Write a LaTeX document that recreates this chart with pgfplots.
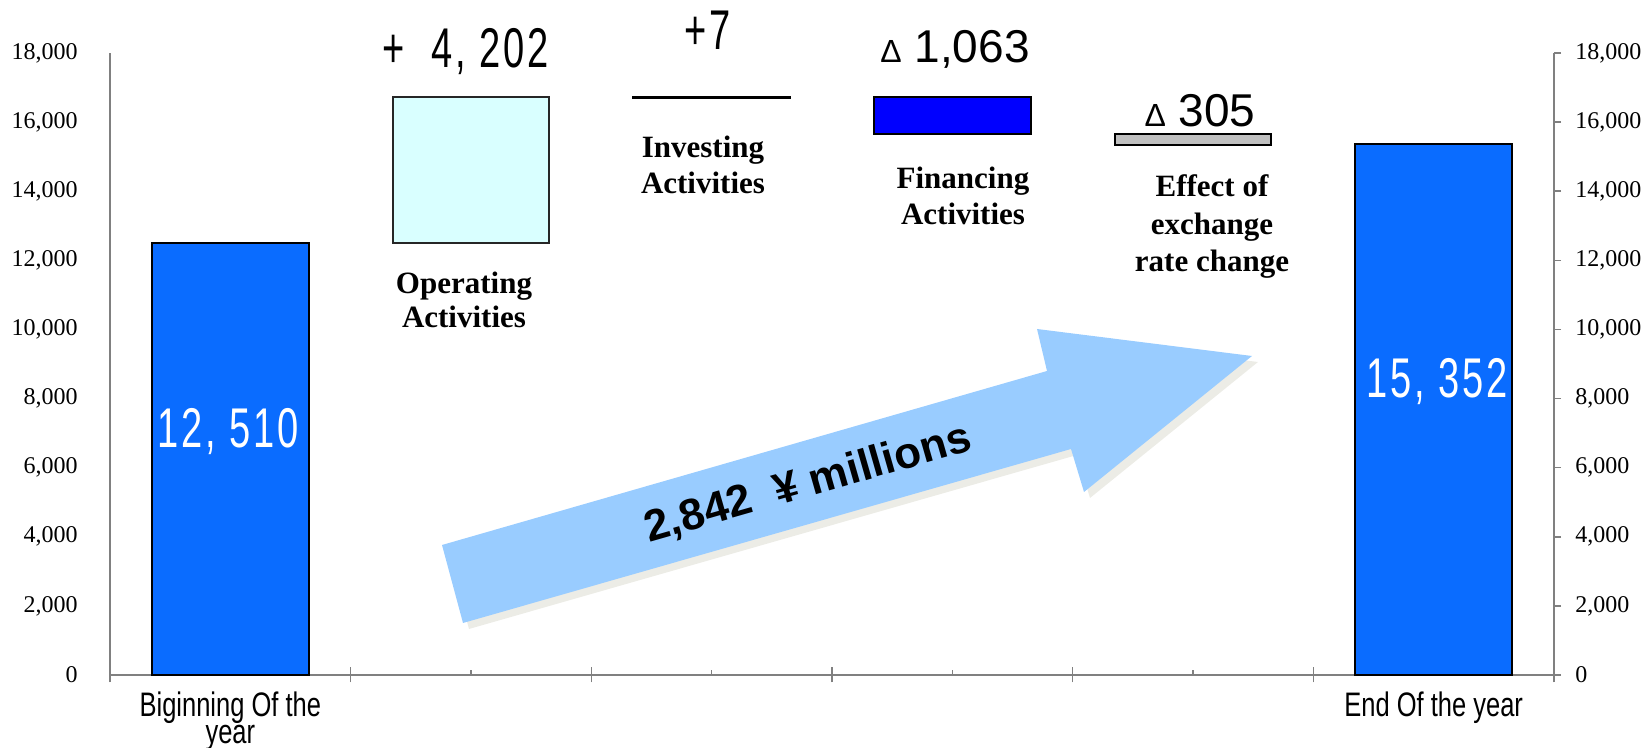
\documentclass[border=0pt]{standalone}
\usepackage{fontspec}
\setmainfont{Liberation Serif}
\setsansfont{Liberation Sans}
\newfontfamily\narrowsans[FakeStretch=0.75]{Liberation Sans}
\newfontfamily\condsans[FakeStretch=0.68,LetterSpace=5]{Liberation Sans}
\usepackage{pgfplots}
\pgfplotsset{compat=1.18}
\definecolor{barblue}{RGB}{10,108,255}
\definecolor{opcyan}{RGB}{217,255,255}
\definecolor{finblue}{RGB}{0,0,255}
\definecolor{effgray}{RGB}{192,192,192}
\definecolor{arrowblue}{RGB}{153,204,255}
\definecolor{shadowgray}{RGB}{236,236,230}
\definecolor{axisgray}{RGB}{128,128,128}
\begin{document}
\begin{tikzpicture}
\tikzset{px/.style={x=0.5pt,y=-0.5pt,shift={(-55pt,337.5pt)}}}
\begin{axis}[
  scale only axis, width=722pt, height=311pt,
  xmin=-0.5, xmax=5.5, ymin=0, ymax=18000,
  axis x line*=bottom, axis y line*=left,
  axis line style={axisgray, line width=0.8pt},
  tick align=inside,
  ytick={0,2000,...,18000},
  scaled y ticks=false,
  ytick style={draw=none},
  /pgf/number format/1000 sep={,},
  /pgf/number format/assume math mode=true,
  yticklabel style={font=\fontsize{12}{12}\selectfont, inner sep=0pt, xshift=-16pt},
  xtick={0,...,5},
  xticklabels={{Biginning Of the\\year},{},{},{},{},{End Of the year}},
  xticklabel style={font=\narrowsans\fontsize{17}{12.5}\selectfont, align=center, inner sep=0pt, yshift=-8pt},
  xtick style={axisgray, line width=0.8pt},
  major tick length=2.5pt,
  extra x ticks={-0.5,0.5,...,5.5},
  extra x tick labels={},
  extra x tick style={tick align=center, major tick length=7.5pt, xtick style={axisgray, line width=0.8pt}},
  clip=false,
]
\addplot[ybar, bar width=78.5pt, bar shift=0pt, fill=barblue, draw=black, line width=1pt] coordinates {(0,12510) (5,15352)};
\addplot[fill=opcyan, draw=black!85, line width=1pt] coordinates {(0.674,12510) (1.326,12510) (1.326,16712) (0.674,16712)} -- cycle;
\addplot[fill=black, draw=black, line width=1.2pt] coordinates {(1.674,16712) (2.326,16712) (2.326,16719) (1.674,16719)} -- cycle;
\addplot[fill=finblue, draw=black, line width=1pt] coordinates {(2.674,15656) (3.326,15656) (3.326,16719) (2.674,16719)} -- cycle;
\addplot[fill=effgray, draw=black, line width=1pt] coordinates {(3.674,15351) (4.326,15351) (4.326,15656) (3.674,15656)} -- cycle;
\end{axis}
\begin{axis}[
  scale only axis, width=722pt, height=311pt,
  xmin=-0.5, xmax=5.5, ymin=0, ymax=18000,
  axis x line=none, axis y line*=right,
  axis line style={axisgray, line width=0.8pt},
  tick align=outside, major tick length=3.5pt,
  ytick={0,2000,...,18000},
  scaled y ticks=false,
  ytick style={axisgray, line width=0.8pt},
  /pgf/number format/1000 sep={,},
  /pgf/number format/assume math mode=true,
  yticklabel style={font=\fontsize{12}{12}\selectfont, inner sep=0pt, xshift=7pt},
]
\addplot[draw=none] coordinates {(0,0)};
\end{axis}
\begin{scope}[px]
  \begin{scope}[shift={(6,6)}]
    \fill[shadowgray] (442,545) -- (1047,371) -- (1037,329) -- (1252,356) -- (1084,492) -- (1071,449) -- (463,623) -- cycle;
  \end{scope}
  \fill[arrowblue] (442,545) -- (1047,371) -- (1037,329) -- (1252,356) -- (1084,492) -- (1071,449) -- (463,623) -- cycle;
  \node[rotate=16, font=\sffamily\bfseries\fontsize{22}{22}\selectfont] at (808,484) {2,842\ \ ¥ millions};
  % values
  \node[anchor=base, white, inner sep=0pt, font=\condsans\fontsize{28}{28}\selectfont] at (228,448) {12,\ 510};
  \node[anchor=base, white, inner sep=0pt, font=\condsans\fontsize{28}{28}\selectfont] at (1437,398) {15,\ 352};
  \node[anchor=base, inner sep=0pt, font=\condsans\fontsize{28}{28}\selectfont] at (466,68) {+\ \ 4,\ 202};
  \node[anchor=base, inner sep=0pt, font=\condsans\fontsize{28}{28}\selectfont] at (708,50) {+7};
  \node[anchor=base, inner sep=0pt, font=\sffamily\fontsize{23}{23}\selectfont] at (955,63) {{\fontsize{16}{16}\selectfont Δ}\ 1,063};
  \node[anchor=base, inner sep=0pt, font=\sffamily\fontsize{23}{23}\selectfont] at (1200,127) {{\fontsize{16}{16}\selectfont Δ}\ 305};
  % category labels
  \tikzset{cat/.style={anchor=base, inner sep=0pt, font=\bfseries\fontsize{15.5}{16}\selectfont}}
  \node[cat] at (464,294) {Operating};
  \node[cat] at (464,328) {Activities};
  \node[cat] at (703,158) {Investing};
  \node[cat] at (703,194) {Activities};
  \node[cat] at (963,189) {Financing};
  \node[cat] at (963,225) {Activities};
  \node[cat] at (1212,197) {Effect of};
  \node[cat] at (1212,235) {exchange};
  \node[cat] at (1212,272) {rate change};
\end{scope}
\pgfresetboundingbox
\path[px] (0,0) rectangle (1650,748);
\end{tikzpicture}
\end{document}
